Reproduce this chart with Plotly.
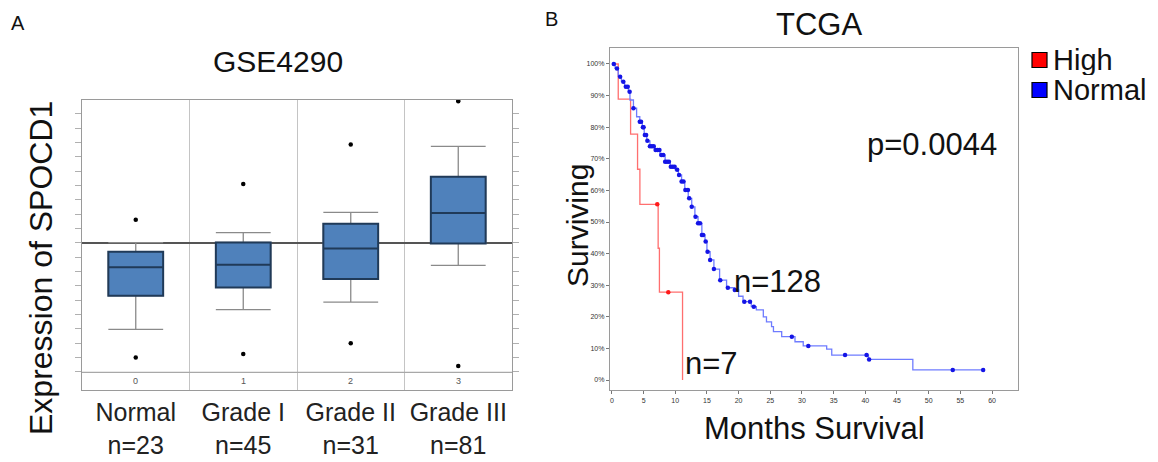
import numpy as np
import plotly.graph_objects as go

# ---------------- Panel A data (GSE4290 box plot) ----------------
groups = ["Normal", "Grade I", "Grade II", "Grade III"]
group_n = ["n=23", "n=45", "n=31", "n=81"]
group_codes = ["0", "1", "2", "3"]
q1 = [-3.70, -3.12, -2.53, -0.05]
median = [-1.72, -1.53, -0.40, 2.07]
q3 = [-0.63, 0.02, 1.33, 4.60]
lower_whisker = [-6.05, -4.67, -4.14, -1.58]
upper_whisker = [0.00, 0.70, 2.12, 6.72]
outlier_group = [0, 0, 1, 1, 2, 2, 3, 3]
outlier_value = [1.60, -8.02, 4.09, -7.77, 6.86, -7.02, 9.88, -8.60]

# ---------------- Panel B data (TCGA Kaplan-Meier) ----------------
high_t = [0, 1.0, 2.95, 4.05, 4.42, 7.3, 7.5, 11.15]
high_s = [100, 88.9, 77.8, 66.7, 55.6, 41.7, 27.8, 0]
high_censor_t = [7.16, 8.9]

normal_t = [0, 0.5, 1.0, 1.5, 2.0, 2.6, 2.85, 3.4, 3.9, 4.4, 4.8, 5.1, 5.5, 6.0,
            6.8, 7.6, 8.4, 9.2, 10.0, 10.5, 11.0, 11.5, 12.05, 12.6, 13.1, 13.6,
            14.2, 14.7, 15.0, 15.5, 16.1, 17.0, 18.1, 19.4, 20.0, 20.7, 22.0,
            22.8, 23.9, 24.4, 25.2, 25.5, 26.8, 28.9, 30.2, 33.9, 34.7, 40.5,
            47.5, 58.6]
normal_s = [100, 98.6, 96.0, 94.4, 92.8, 91.2, 88.6, 86.0, 83.3, 81.7, 80.0, 77.5,
            75.7, 74.0, 72.8, 71.2, 69.1, 67.5, 66.5, 64.9, 62.8, 60.1, 57.5, 54.8,
            51.7, 49.6, 45.9, 43.8, 40.6, 38.0, 35.1, 31.6, 29.2, 28.5, 26.5, 24.8,
            23.2, 22.2, 20.0, 18.4, 16.9, 15.3, 13.7, 12.1, 10.8, 9.8, 7.9, 6.5,
            3.2, 3.2]
normal_censor_t = [0.3, 0.8, 1.3, 1.8, 2.2, 2.5, 2.8, 3.4, 4.4, 4.6, 4.9, 5.0, 5.2,
                   5.4, 5.6, 6.0, 6.3, 6.6, 6.9, 7.2, 7.5, 7.8, 8.1, 8.4, 8.7, 9.0,
                   9.3, 9.6, 9.9, 10.3, 10.6, 11.0, 11.3, 11.6, 12.0, 12.2, 12.6,
                   13.2, 13.6, 13.9, 14.2, 14.4, 14.8, 15.1, 15.5, 16.1, 17.1, 18.3,
                   19.4, 20.9, 21.8, 22.4, 28.4, 31.0, 36.8, 40.2, 40.6, 53.8, 58.6]

km_y_ticks = list(range(0, 101, 10))
km_y_text = [f"{v}%" for v in km_y_ticks]
km_x_ticks = list(range(0, 61, 5))


def step_lookup(times, surv, t_query):
    times = np.asarray(times)
    surv = np.asarray(surv)
    idx = np.searchsorted(times, t_query, side="right") - 1
    return surv[np.clip(idx, 0, len(surv) - 1)]


FONT = "Liberation Sans, Arial, Helvetica, sans-serif"
W, H = 1158, 462


def px(x):
    return x / W


def py(y):
    return 1 - y / H


fig = go.Figure()

xs = list(range(len(groups)))
# whiskers + base box (gray lines)
fig.add_trace(go.Box(
    x=xs, q1=q1, median=median, q3=q3,
    lowerfence=lower_whisker, upperfence=upper_whisker,
    width=0.51, whiskerwidth=1, boxpoints=False,
    fillcolor="#4f81bb", line=dict(color="#8a8a8a", width=1.3),
    xaxis="x", yaxis="y", showlegend=False, hoverinfo="skip"))
# box body with darker outline and median
fig.add_trace(go.Box(
    x=xs, q1=q1, median=median, q3=q3,
    lowerfence=q1, upperfence=q3,
    width=0.51, whiskerwidth=0, boxpoints=False,
    fillcolor="#4f81bb", line=dict(color="#203a58", width=2.0),
    xaxis="x", yaxis="y", showlegend=False, name="box"))
fig.add_trace(go.Scatter(
    x=outlier_group, y=outlier_value, mode="markers",
    marker=dict(color="black", size=4.5),
    xaxis="x", yaxis="y", showlegend=False, name="outliers"))

# KM curves
fig.add_trace(go.Scatter(
    x=high_t, y=high_s, mode="lines", line=dict(color="#ff6f6f", width=1.3, shape="hv"),
    xaxis="x2", yaxis="y2", showlegend=False, name="High"))
fig.add_trace(go.Scatter(
    x=high_censor_t, y=step_lookup(high_t, high_s, high_censor_t), mode="markers",
    marker=dict(color="#ff1a1a", size=4.5), xaxis="x2", yaxis="y2", showlegend=False))
fig.add_trace(go.Scatter(
    x=normal_t, y=normal_s, mode="lines", line=dict(color="#6f7cff", width=1.3, shape="hv"),
    xaxis="x2", yaxis="y2", showlegend=False, name="Normal"))
fig.add_trace(go.Scatter(
    x=normal_censor_t, y=step_lookup(normal_t, normal_s, normal_censor_t), mode="markers",
    marker=dict(color="#1414e6", size=4.5), xaxis="x2", yaxis="y2", showlegend=False))

fig.update_layout(
    width=W, height=H, margin=dict(l=0, r=0, t=0, b=0),
    paper_bgcolor="white", plot_bgcolor="white",
    font=dict(family=FONT, color="#111"),
    boxmode="overlay",
    xaxis=dict(domain=[px(82), px(512)], range=[-0.5, 3.5],
               tickvals=xs,
               ticktext=[f"{g}<br>{n}" for g, n in zip(groups, group_n)],
               tickfont=dict(size=25, color="#222"), ticks="",
               showgrid=False, zeroline=False,
               showline=True, mirror=True, linecolor="#9a9a9a", linewidth=1.3,
               minor=dict(tickvals=[0.5, 1.5, 2.5], showgrid=True,
                          gridcolor="#c4c4c4", gridwidth=1.2, ticks="")),
    yaxis=dict(domain=[py(390), py(100)], range=[-10.28, 9.96],
               tickvals=list(range(-9, 10)), showticklabels=False,
               ticks="outside", ticklen=6, tickcolor="#b0b0b0",
               showgrid=False, zeroline=True, zerolinecolor="#555",
               zerolinewidth=1.5,
               showline=True, mirror="ticks", linecolor="#9a9a9a", linewidth=1.3),
    xaxis2=dict(domain=[px(610), px(1018)], range=[-0.3, 64.1], anchor="y2",
                tickvals=km_x_ticks, tickfont=dict(size=7, color="#333"),
                ticks="outside", ticklen=3, tickcolor="#777",
                showgrid=False, zeroline=False,
                showline=True, mirror=True, linecolor="#9a9a9a", linewidth=1.3),
    yaxis2=dict(domain=[py(390), py(48)], range=[-3.16, 105.06], anchor="x2",
                tickvals=km_y_ticks, ticktext=km_y_text,
                tickfont=dict(size=7, color="#333"),
                ticks="outside", ticklen=3, tickcolor="#777",
                showgrid=False, zeroline=False,
                showline=True, mirror=True, linecolor="#9a9a9a", linewidth=1.3),
)

# separator above the group-code row, and group codes
fig.add_shape(type="line", xref="x domain", yref="y", x0=0, x1=1, y0=-9.05, y1=-9.05,
              line=dict(color="#a8a8a8", width=1.2))
for i, code in enumerate(group_codes):
    fig.add_annotation(x=i, y=-9.66, xref="x", yref="y", text=code, showarrow=False,
                       font=dict(size=9, color="#555"))

annots = [
    ("A", 18, 23, 20, 0),
    ("B", 551, 19, 20, 0),
    ("GSE4290", 278, 61, 30, 0),
    ("TCGA", 819, 24, 31, 0),
    ("p=0.0044", 932, 144, 31, 0),
    ("n=128", 777, 281, 31, 0),
    ("n=7", 711, 363, 31, 0),
    ("Expression of SPOCD1", 41, 268, 32, -90),
    ("Surviving", 577, 226, 30, -90),
    ("Months Survival", 814, 428, 31, 0),
]
for text, x, y, size, angle in annots:
    fig.add_annotation(x=px(x), y=py(y), xref="paper", yref="paper", text=text,
                       showarrow=False, xanchor="center", yanchor="middle",
                       textangle=angle, font=dict(size=size, color="#111"))

# legend (drawn manually to match the tight spacing)
legend_items = [("High", "#ff0000", 60), ("Normal", "#0000ff", 90)]
for label, color, yc in legend_items:
    fig.add_shape(type="rect", xref="paper", yref="paper",
                  x0=px(1032), x1=px(1047), y0=py(yc + 7.5), y1=py(yc - 7.5),
                  fillcolor=color, line=dict(color="black", width=1.2))
    fig.add_annotation(x=px(1052), y=py(yc), xref="paper", yref="paper", text=label,
                       showarrow=False, xanchor="left", yanchor="middle",
                       height=30, borderpad=0,
                       font=dict(size=29, color="#111"))

fig.write_html("out.html", post_script="document.body.style.margin='0';",
               config={"displayModeBar": False})
